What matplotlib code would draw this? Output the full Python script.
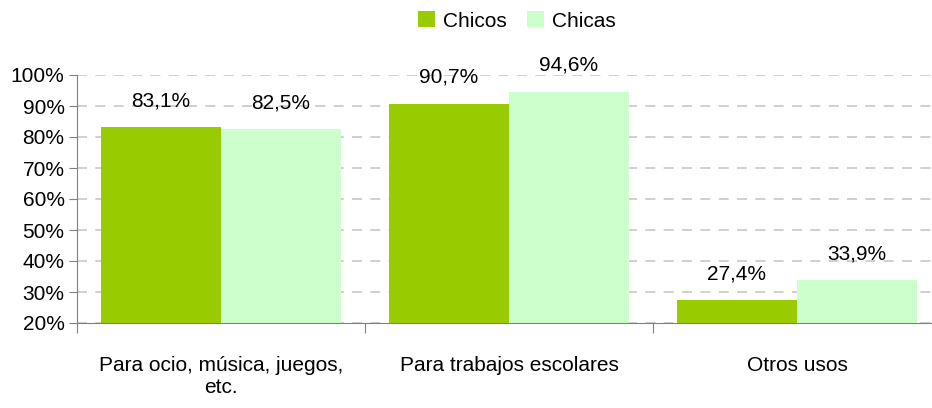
import matplotlib.pyplot as plt
import numpy as np

plt.rcParams['font.family'] = ['Liberation Sans Narrow', 'Liberation Sans', 'DejaVu Sans']

categorias = ["Para ocio, música, juegos,\netc.", "Para trabajos escolares", "Otros usos"]
chicos = [83.1, 90.7, 27.4]
chicas = [82.5, 94.6, 33.9]
series = ["Chicos", "Chicas"]

verde = "#99CC00"
verde_claro = "#CCFFCC"

fig = plt.figure(figsize=(9.32, 4.08), dpi=100)
ax = fig.add_axes([77 / 932, 85 / 408, 855 / 932, 248 / 408])

x = np.arange(len(categorias))
w = 0.4167
b1 = ax.bar(x - w / 2, [v - 20 for v in chicos], w, bottom=20, color=verde, label=series[0])
b2 = ax.bar(x + w / 2, [v - 20 for v in chicas], w, bottom=20, color=verde_claro, label=series[1])

for xs, vals in [(x - w / 2, chicos), (x + w / 2, chicas)]:
    for xi, v in zip(xs, vals):
        ax.text(xi, v + 8.5, f"{v:.1f}%".replace(".", ","), ha="center", va="center", fontsize=15)

ax.set_xlim(-0.5, -0.5 + 855 / 288)
ax.set_ylim(20, 100)
ax.set_yticks(range(20, 101, 10))
ax.set_yticklabels([f"{t}%" for t in range(20, 101, 10)], fontsize=15)

ax.set_xticks([-0.5, 0.5, 1.5])
ax.set_xticklabels([])
ax.set_xticks(x, minor=True)
ax.set_xticklabels(categorias, minor=True, fontsize=15)
ax.tick_params(axis="x", which="major", length=7, color="#808080")
ax.tick_params(axis="x", which="minor", length=0, pad=24)
ax.tick_params(axis="y", length=6, color="#808080", pad=3)

ax.yaxis.grid(True, linestyle=(0, (6, 5)), color="#c8c8c8", linewidth=1.2)
ax.set_axisbelow(True)
for s in ["top", "right"]:
    ax.spines[s].set_visible(False)
ax.spines["left"].set_color("#808080")
ax.spines["bottom"].set_color("#808080")

fig.legend(handles=[b1, b2], labels=series, loc="center", bbox_to_anchor=(517 / 932, 1 - 21 / 408),
           ncol=2, frameon=False, fontsize=15, handlelength=0.8, handleheight=0.8,
           handletextpad=0.4, columnspacing=1.0)

fig.savefig("out.png", dpi=100)
